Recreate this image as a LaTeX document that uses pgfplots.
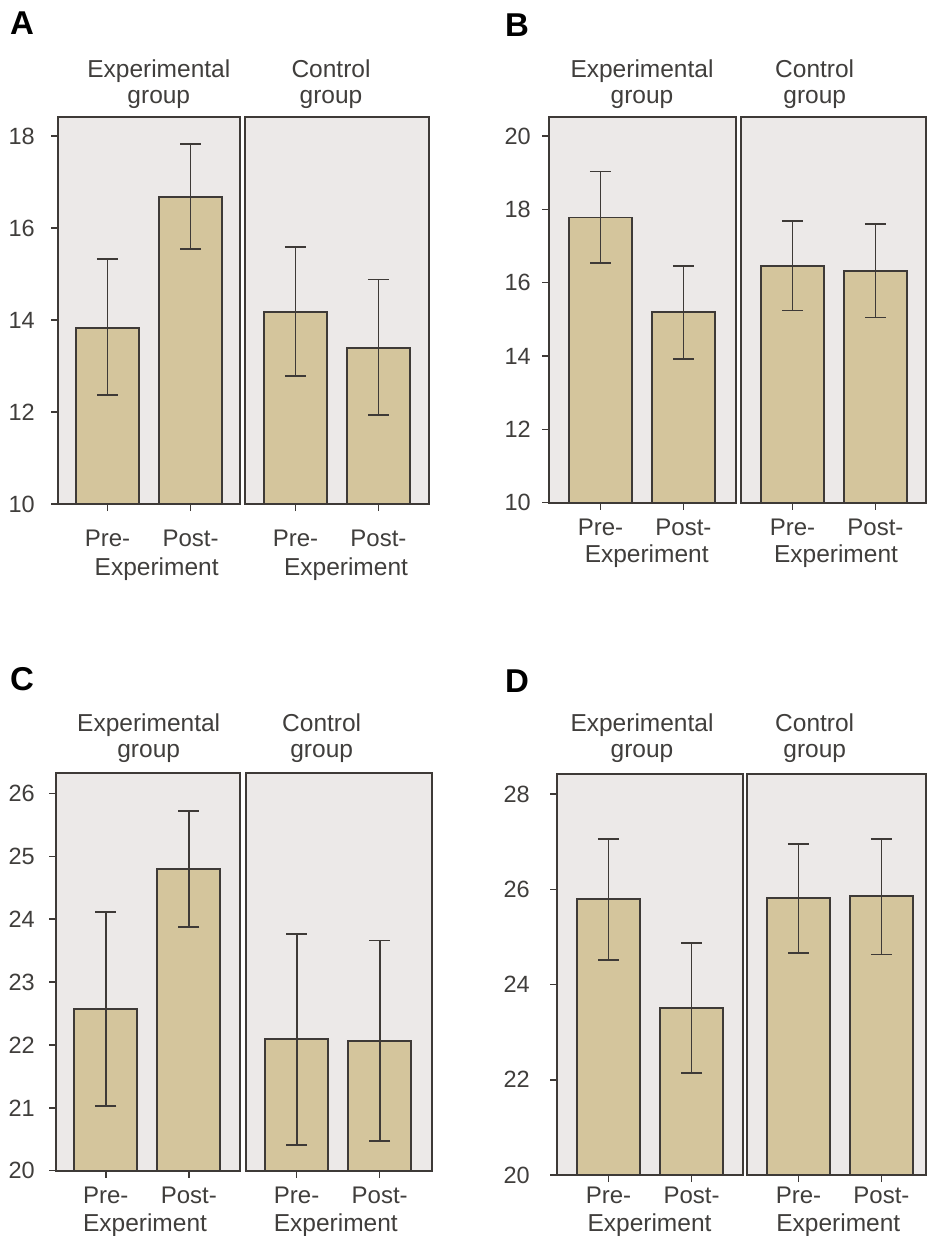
\documentclass[border=0pt]{standalone}
\usepackage{pgfplots}
\pgfplotsset{compat=1.18}
\usepackage{fontspec}
\setmainfont{Liberation Sans}
\definecolor{bgc}{RGB}{236,233,232}
\definecolor{barc}{RGB}{212,197,156}
\definecolor{framec}{RGB}{62,58,55}
\definecolor{txtc}{RGB}{64,62,60}
\pgfplotsset{
 sub/.style={scale only axis, ybar, bar width=63pt, clip=false,
  axis background/.style={fill=bgc},
  axis line style={draw=framec, line width=2pt},
  xtick={0,1}, xticklabels={Pre-,Post-},
  tick align=outside, tick pos=left, major tick length=7pt,
  tick style={draw=framec, line width=1.5pt},
  tick label style={font=\fontsize{24}{28}\selectfont, text=txtc},
  yticklabel style={font=\fontsize{23.5}{28}\selectfont, anchor=east, inner xsep=0pt},
  /pgf/number format/assume math mode=true,
  xticklabel style={anchor=base},
 },
 mybars/.style={fill=barc, draw=framec, line width=1.8pt,
   error bars/.cd, y dir=both, y explicit,
   error bar style={draw=framec, line width=1.8pt},
   error mark options={draw=framec, line width=1.8pt, mark size=10.5pt, rotate=90}},
}
\tikzset{
 ttl/.style={anchor=base, font=\fontsize{24.5}{28}\selectfont, text=txtc, inner sep=0pt},
 letter/.style={anchor=base west, font=\fontsize{33}{36}\selectfont\bfseries, text=black, inner sep=0pt},
}
\begin{document}
\begin{tikzpicture}[x=1pt,y=1pt]
\path[use as bounding box] (0,0) rectangle (927,-1236);
% ---------------- Panel A ----------------
\begin{axis}[sub, at={(58pt,-504pt)}, anchor=south west, width=182pt, height=387pt,
  xmin=-0.596, xmax=1.596, ymin=10, ymax=18.413, ytick={10,12,14,16,18},
  yticklabel style={xshift=-16pt}, xticklabel style={yshift=-35.7pt}]
\addplot[mybars] coordinates {(0,13.82) += (0,1.51) -= (0,1.45) (1,16.67) += (0,1.15) -= (0,1.13)};
\end{axis}
\begin{axis}[sub, at={(245pt,-504pt)}, anchor=south west, width=184pt, height=387pt,
  xmin=-0.608, xmax=1.609, ymin=10, ymax=18.413, ytick=\empty,
  xticklabel style={yshift=-35.7pt}]
\addplot[mybars] coordinates {(0,14.18) += (0,1.41) -= (0,1.40) (1,13.40) += (0,1.48) -= (0,1.47)};
\end{axis}
% ---------------- Panel B ----------------
\begin{axis}[sub, at={(549pt,-502.7pt)}, anchor=south west, width=187pt, height=386pt,
  xmin=-0.62, xmax=1.633, ymin=10, ymax=20.527, ytick={10,12,14,16,18,20},
  yticklabel style={xshift=-11pt}, xticklabel style={yshift=-25.3pt}]
\addplot[mybars] coordinates {(0,17.78) += (0,1.25) -= (0,1.25) (1,15.19) += (0,1.27) -= (0,1.28)};
\end{axis}
\begin{axis}[sub, at={(741pt,-502.7pt)}, anchor=south west, width=185pt, height=386pt,
  xmin=-0.62, xmax=1.61, ymin=10, ymax=20.527, ytick=\empty,
  xticklabel style={yshift=-25.3pt}]
\addplot[mybars] coordinates {(0,16.46) += (0,1.23) -= (0,1.22) (1,16.32) += (0,1.27) -= (0,1.27)};
\end{axis}
% ---------------- Panel C ----------------
\begin{axis}[sub, at={(56pt,-1170.7pt)}, anchor=south west, width=184pt, height=397.4pt,
  xmin=-0.6, xmax=1.617, ymin=20, ymax=26.32, ytick={20,21,22,23,24,25,26},
  yticklabel style={xshift=-14pt}, xticklabel style={yshift=-25.6pt}]
\addplot[mybars] coordinates {(0,22.57) += (0,1.55) -= (0,1.54) (1,24.80) += (0,0.92) -= (0,0.93)};
\end{axis}
\begin{axis}[sub, at={(246pt,-1170.7pt)}, anchor=south west, width=186pt, height=397.4pt,
  xmin=-0.61, xmax=1.63, ymin=20, ymax=26.32, ytick=\empty,
  xticklabel style={yshift=-25.6pt}]
\addplot[mybars] coordinates {(0,22.09) += (0,1.67) -= (0,1.68) (1,22.06) += (0,1.60) -= (0,1.59)};
\end{axis}
% ---------------- Panel D ----------------
\begin{axis}[sub, at={(557pt,-1175pt)}, anchor=south west, width=186pt, height=401pt,
  xmin=-0.62, xmax=1.62, ymin=20, ymax=28.42, ytick={20,22,24,26,28},
  yticklabel style={xshift=-20pt}, xticklabel style={yshift=-21.3pt}]
\addplot[mybars] coordinates {(0,25.79) += (0,1.27) -= (0,1.28) (1,23.51) += (0,1.37) -= (0,1.36)};
\end{axis}
\begin{axis}[sub, at={(747pt,-1175pt)}, anchor=south west, width=179pt, height=401pt,
  xmin=-0.62, xmax=1.537, ymin=20, ymax=28.42, ytick=\empty,
  xticklabel style={yshift=-21.3pt}]
\addplot[mybars] coordinates {(0,25.81) += (0,1.14) -= (0,1.14) (1,25.86) += (0,1.20) -= (0,1.23)};
\end{axis}
% ---------------- Texts ----------------
\node[letter] at (10,-35) {A};
\node[letter] at (505,-37) {B};
\node[letter] at (10,-690) {C};
\node[letter] at (505,-692) {D};
% titles
\node[ttl] at (158.8,-77.3) {Experimental}; \node[ttl] at (158.8,-103.5) {group};
\node[ttl] at (331,-77.3) {Control}; \node[ttl] at (331,-103.5) {group};
\node[ttl] at (642,-77.3) {Experimental}; \node[ttl] at (642,-103.5) {group};
\node[ttl] at (814.7,-77.3) {Control}; \node[ttl] at (814.7,-103.5) {group};
\node[ttl] at (148.7,-731.7) {Experimental}; \node[ttl] at (148.7,-757) {group};
\node[ttl] at (321.7,-731.7) {Control}; \node[ttl] at (321.7,-757) {group};
\node[ttl] at (642,-731.7) {Experimental}; \node[ttl] at (642,-757) {group};
\node[ttl] at (814.7,-731.7) {Control}; \node[ttl] at (814.7,-757) {group};
% Experiment labels
\node[ttl] at (156.7,-575) {Experiment}; \node[ttl] at (346,-575) {Experiment};
\node[ttl] at (646.7,-562.7) {Experiment}; \node[ttl] at (836,-562.7) {Experiment};
\node[ttl] at (145,-1231.7) {Experiment}; \node[ttl] at (335.8,-1231.7) {Experiment};
\node[ttl] at (649.5,-1231.7) {Experiment}; \node[ttl] at (838.3,-1231.7) {Experiment};
\end{tikzpicture}
\end{document}
